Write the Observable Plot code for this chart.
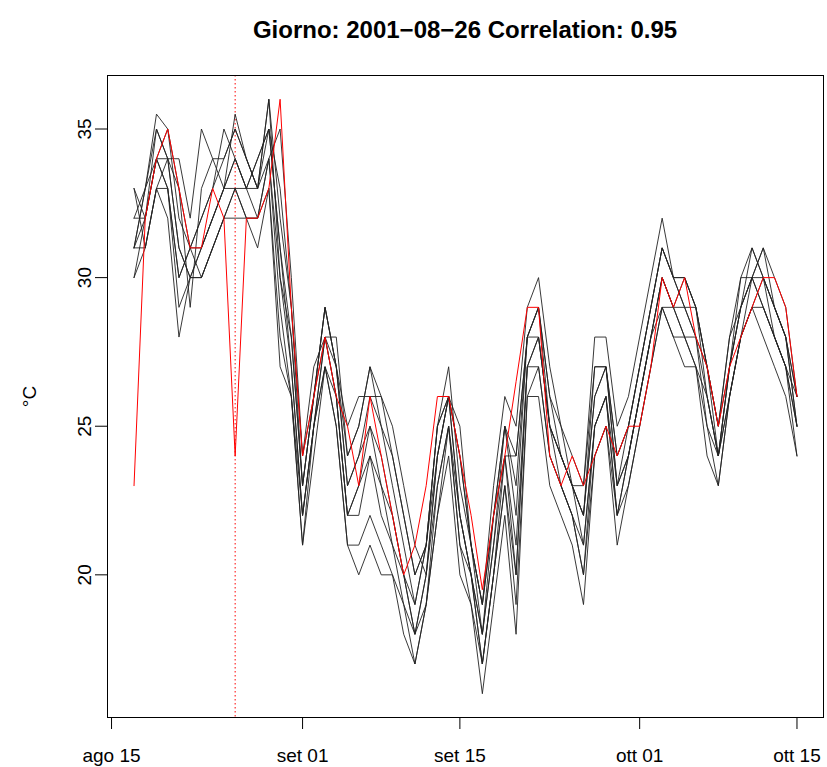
<!DOCTYPE html>
<html><head><meta charset="utf-8">
<script src="https://cdn.jsdelivr.net/npm/d3@7"></script>
<script src="https://cdn.jsdelivr.net/npm/@observablehq/plot@0.6"></script>
<style>
body{margin:0;background:#fff;font-family:"Liberation Sans",Arimo,Helvetica,Arial,sans-serif;}
#wrap{width:827px;height:767px;position:relative;background:#fff;}
#title{height:60px;box-sizing:border-box;padding:16px 4px 0 107px;text-align:center;font-weight:bold;font-size:24px;color:#000;line-height:28px;}
</style></head><body><div id="wrap"><div id="title">Giorno: 2001−08−26 Correlation: 0.95</div><div id="chart"></div></div>
<script>
// ---- data ----
const startDate = "2001-08-17";   // first day of the series (60 consecutive days)
const markedDay = "2001-08-26";   // highlighted day
const tickDates = ["2001-08-15", "2001-09-01", "2001-09-15", "2001-10-01", "2001-10-15"];
const tickLabels = ["ago 15", "set 01", "set 15", "ott 01", "ott 15"];
const yTicks = [20, 25, 30, 35];

// red series (target day analogue)
const target = [23,32,34,35,33,31,31,33,32,24, 32,32,33,36,29,24,26,28,26,25, 23,26,24,22,20,21,23,26,26,24, 22,19.5,22,24,26.5,29,29,24,23,24, 23,24,25,24,25,25,27,30,29,30, 28,27,25,27,28,29,30,30,29,26];

// black series (analogue stations)
const st1 = [30,32,34,33,29,30,31,32,33,34, 33,33,35,31,27,22,25,28,26,22, 23,25,23,22,20,18,20,24,26,22, 20,18,21,24,21,27,28,25,24,23, 21,25,26,23,24, 26,28,30,29,29,28,26,24,27,29,30,30,29,28,25];
const st2 = [31,31,33,34,31,30,30,31,32,33, 32,32,34,29,26,21,25,27,25,21, 20,21,20,20,19,17,19,22,25,21, 20,17,20,23,19,26,27,24,23,22, 20,24,25,22,23, 25,27,29,28,28,27,25,23,26,28,29,29,28,27,24];
const st3 = [32,33,35.5,35,33,31,32,33,34,35, 34,33,36,30,28,23,26,29,27,23, 24,26,25,23,21,19,21,25,27,23, 21,19,22,25,23,28,29,26,25,24, 23,27,27,24,25, 27,29,31,30,30,29,27,25,28,29,31,30,29,28,26];
const st4 = [33,32,34,33,30,31,31,32,33,34, 33,34,35,33,29,24,27,28,28,24, 25,27,26,24,22,20,21,25,26,24, 21,19,23,26,25,29,30,27,25,23, 23,28,28,25,26, 28,30,32,30,29,28,27,24,27,30,30,31,30,29,26];
const st5 = [31,33,35,34,34,32,35,34,33,35.5, 34,33,34,35,30,24,26,29,27,25, 26,26,26,25,23,21,20,24,26,25, 21,18,22,24,24,28,28,25,24,23, 22,26,27,23,24, 26,28,30,29,30,29,26,24,26,28,30,29,28,27,25];
const st6 = [30,31,33,32,28,30,30,31,32,33, 32,31,33,28,26,21,24,27,25,21, 21,22,21,20,18,17,19,22,24,20, 19,16,19,22,18,26,26,23,22,21, 19,24,25,21,23, 25,27,29,28,27,27,24,23,26,28,29,28,27,26,24];
const st7 = [32,32,34,35,32,31,32,33,35,34, 33,34,35,31,28,23,26,28,27,23, 24,25,24,22,20,19,21,24,26,22, 20,18,21,25,22,28,29,25,24,23, 22,26,27,23,25, 27,29,31,30,29,29,27,25,27,29,30,31,29,28,25];
const st8 = [31,33,34,34,31,30,31,32,33,33, 33,32,34,30,27,22,25,28,26,22, 22,24,23,21,20,18,20,23,25,22, 20,17,20,24,20,27,28,25,23,22, 21,25,26,22,24, 26,28,30,29,28,28,25,24,26,28,29,30,28,27,25];
const st9 = [33,31,33,33,30,31,30,31,32,32, 32,32,33,27,26,22,25,27,26,22, 23,24,22,21,19,18,19,23,25,21, 19,17,20,23,20,27,27,24,23,22, 20,25,26,22,24, 26,28,29,29,28,27,26,24,27,29,30,29,28,27,26];
const st10 = [31,32,35,34,33,29,33,34,34,35, 34,33,36,32,29,23,26,29,27,24, 25,27,25,24,22,20,21,25,26,24, 21,19,22,25,24,28,29,26,24,23, 22,27,27,24,25, 27,29,31,30,30,29,27,25,28,30,31,30,29,28,26];

const stations = [st1, st2, st3, st4, st5, st6, st7, st8, st9, st10];

// ---- build tables ----
const parse = d3.utcParse("%Y-%m-%d");
const t0 = parse(startDate);
const dates = target.map((_, i) => d3.utcDay.offset(t0, i));
const blackRows = [];
stations.forEach((vals, k) => vals.forEach((v, i) => blackRows.push({station: "s" + (k + 1), date: dates[i], value: v})));
const redRows = target.map((v, i) => ({date: dates[i], value: v}));

// R-style 4% padding of the ranges
const xr = d3.extent(dates, d => +d), xpad = (xr[1] - xr[0]) * 0.04;
const xDomain = [new Date(xr[0] - xpad), new Date(xr[1] + xpad)];
const yDomain = [15.2, 36.8];

const labelOf = new Map(tickDates.map((d, i) => [+parse(d), tickLabels[i]]));

const chart = Plot.plot({
  width: 827, height: 707,
  marginTop: 15, marginBottom: 50, marginLeft: 107, marginRight: 4,
  style: {fontFamily: "'Liberation Sans', Arimo, Helvetica, Arial, sans-serif", fontSize: "19px", color: "#000", background: "#fff"},
  x: {type: "utc", domain: xDomain},
  y: {domain: yDomain},
  marks: [
    Plot.axisX(tickDates.map(parse), {tickSize: 12, tickPadding: 19, tickFormat: d => labelOf.get(+d), fontSize: 19, label: null, stroke: "#000"}),
    Plot.axisY(yTicks, {tickSize: 12, tickFormat: () => "", label: null, stroke: "#000"}),
    Plot.text(yTicks, {y: d => d, text: d => String(d), frameAnchor: "left", dx: -23, rotate: -90, textAnchor: "middle", lineAnchor: "middle", fontSize: 19, fill: "#000"}),
    Plot.text([0], {frameAnchor: "left", dx: -78, rotate: -90, text: () => "°C", textAnchor: "middle", lineAnchor: "middle", fontSize: 19, fill: "#000"}),
    Plot.ruleX([parse(markedDay)], {stroke: "red", strokeWidth: 1, strokeDasharray: "1.5,2.5"}),
    Plot.line(blackRows, {x: "date", y: "value", z: "station", stroke: "#222", strokeWidth: 0.9, strokeLinejoin: "miter"}),
    Plot.line(redRows, {x: "date", y: "value", stroke: "#f00", strokeWidth: 1}),
    Plot.frame({stroke: "#000", strokeWidth: 1})
  ]
});
document.getElementById("chart").appendChild(chart);
</script></body></html>
